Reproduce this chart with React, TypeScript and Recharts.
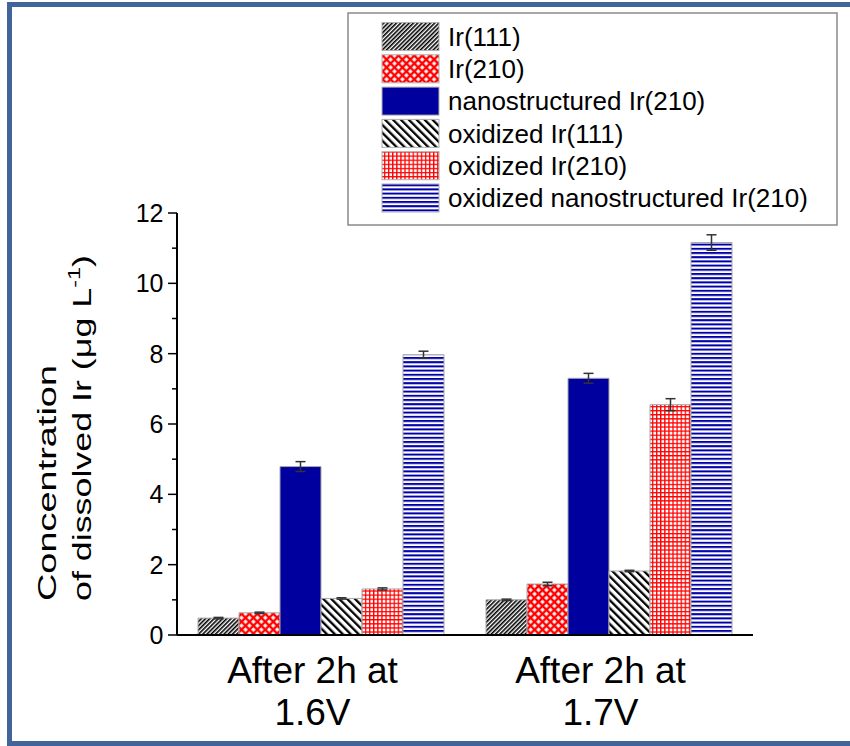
import React from 'react';
import { BarChart, Bar, XAxis, YAxis, ErrorBar, Legend, Label } from 'recharts';

// ---- data ----
const categories = ['After 2h at|1.6V', 'After 2h at|1.7V'];
const seriesNames = [
  'Ir(111)',
  'Ir(210)',
  'nanostructured Ir(210)',
  'oxidized Ir(111)',
  'oxidized Ir(210)',
  'oxidized nanostructured Ir(210)',
];
const ir111 = [0.48, 1.0];
const ir111Err = [0.02, 0.02];
const ir210 = [0.63, 1.45];
const ir210Err = [0.02, 0.05];
const nanoIr210 = [4.79, 7.3];
const nanoIr210Err = [0.14, 0.14];
const oxIr111 = [1.04, 1.82];
const oxIr111Err = [0.02, 0.02];
const oxIr210 = [1.31, 6.55];
const oxIr210Err = [0.03, 0.17];
const oxNanoIr210 = [7.97, 11.16];
const oxNanoIr210Err = [0.1, 0.22];
const yTicks = [0, 1, 2, 3, 4, 5, 6, 7, 8, 9, 10, 11, 12];
const yMajorLabels = ['0', '2', '4', '6', '8', '10', '12'];

const keys = ['ir111', 'ir210', 'nano', 'oxIr111', 'oxIr210', 'oxNano'];
const valueArrays = [ir111, ir210, nanoIr210, oxIr111, oxIr210, oxNanoIr210];
const errArrays = [ir111Err, ir210Err, nanoIr210Err, oxIr111Err, oxIr210Err, oxNanoIr210Err];
const fills = [
  'url(#p-ir111)',
  'url(#p-ir210)',
  '#00009E',
  'url(#p-oxir111)',
  'url(#p-oxir210)',
  'url(#p-oxnano)',
];

const data = categories.map((cat, i) => {
  const row: any = { cat };
  keys.forEach((k, j) => {
    row[k] = valueArrays[j][i];
    row[k + 'Err'] = errArrays[j][i];
  });
  return row;
});

const FONT = '"Liberation Sans", Arial, Helvetica, sans-serif';

const Patterns = () => (
  <defs>
    <pattern id="p-ir111" patternUnits="userSpaceOnUse" width="3" height="3" patternTransform="rotate(45)">
      <rect width="3" height="3" fill="#fff" />
      <rect width="1.6" height="3" fill="#000" />
    </pattern>
    <pattern id="p-oxir111" patternUnits="userSpaceOnUse" width="5.6" height="5.6" patternTransform="rotate(-45)">
      <rect width="5.6" height="5.6" fill="#fff" />
      <rect width="2.3" height="5.6" fill="#000" />
    </pattern>
    <pattern id="p-ir210" patternUnits="userSpaceOnUse" width="5.6" height="5.6" patternTransform="rotate(45)">
      <rect width="5.6" height="5.6" fill="#ff0000" />
      <rect x="1.2" y="1.2" width="3.2" height="3.2" fill="#fff" />
    </pattern>
    <pattern id="p-oxir210" patternUnits="userSpaceOnUse" width="4.1" height="4.1">
      <rect width="4.1" height="4.1" fill="#fff" />
      <rect width="4.1" height="1.3" fill="#ff0000" />
      <rect width="1.3" height="4.1" fill="#ff0000" />
    </pattern>
    <pattern id="p-oxnano" patternUnits="userSpaceOnUse" width="4.2" height="4.2">
      <rect width="4.2" height="4.2" fill="#fff" />
      <rect width="4.2" height="2" fill="#0000A8" />
    </pattern>
  </defs>
);

const YTick = (props: any) => {
  const { x, y, payload } = props;
  const v = payload.value;
  const major = v % 2 === 0;
  const label = major ? yMajorLabels[v / 2] : null;
  return (
    <g>
      <line x1={x - (major ? 9 : 5)} y1={y} x2={x} y2={y} stroke="#000" strokeWidth={1.5} />
      {label !== null && (
        <text x={x - 13.5} y={y} dy="0.36em" textAnchor="end" fontSize={25} fontFamily={FONT} fill="#000">
          {label}
        </text>
      )}
    </g>
  );
};

const XTick = (props: any) => {
  const { x, y, payload } = props;
  const lines = String(payload.value).split('|');
  return (
    <g>
      {lines.map((l, i) => (
        <text
          key={i}
          x={x - 8.5}
          y={y + 48 + i * 42}
          textAnchor="middle"
          fontSize={37}
          fontFamily={FONT}
          fill="#000"
        >
          {l}
        </text>
      ))}
    </g>
  );
};

const YLabel = () => (
  <g>
    <text
      transform="translate(56,601) rotate(-90)"
      textAnchor="start"
      fontSize={26}
      fontFamily={FONT}
      fill="#000"
      textLength={236}
      lengthAdjust="spacingAndGlyphs"
    >
      Concentration
    </text>
    <text
      transform="translate(91,601) rotate(-90)"
      textAnchor="start"
      fontSize={26}
      fontFamily={FONT}
      fill="#000"
      textLength={346}
      lengthAdjust="spacingAndGlyphs"
    >
      of dissolved Ir (μg L
      <tspan dy={-11} fontSize={17}>-1</tspan>
      <tspan dy={11}>)</tspan>
    </text>
  </g>
);

const LegendBox = () => (
  <svg width={492} height={215} style={{ display: 'block' }}>
    <rect x={1} y={1} width={489} height={212} fill="#fff" stroke="#8a8a8a" strokeWidth={1.5} />
    {seriesNames.map((name, i) => {
      const cy = 24.5 + i * 32.3;
      return (
        <g key={name}>
          <rect x={35} y={cy - 14} width={57} height={28} fill={fills[i]} stroke="#b0b0b0" strokeWidth={1} />
          <text x={101} y={cy} dy="0.36em" fontSize={26} fontFamily={FONT} fill="#000">
            {name}
          </text>
        </g>
      );
    })}
  </svg>
);

export default function App() {
  return (
    <div style={{ position: 'absolute', left: 0, top: 0, width: 850, height: 746, overflow: 'hidden', background: '#fff' }}>
      <BarChart
        width={850}
        height={746}
        data={data}
        margin={{ top: 213, right: 97, bottom: 0, left: 0 }}
        barCategoryGap={21}
        barGap={0}
      >
        <Patterns />
        <XAxis
          dataKey="cat"
          height={111}
          interval={0}
          tickLine={false}
          tickSize={0}
          tickMargin={0}
          axisLine={{ stroke: '#000', strokeWidth: 2 }}
          tick={<XTick />}
        />
        <YAxis
          width={177}
          domain={[0, 12]}
          ticks={yTicks}
          interval={0}
          tickLine={false}
          tickSize={0}
          tickMargin={0}
          axisLine={{ stroke: '#000', strokeWidth: 2 }}
          tick={<YTick />}
          allowDataOverflow
        >
          <Label content={<YLabel />} />
        </YAxis>
        <Legend
          layout="vertical"
          align="center"
          verticalAlign="middle"
          content={() => <LegendBox />}
          wrapperStyle={{ position: 'absolute', left: 347, top: 12, width: 492, height: 215, margin: 0 }}
        />
        {keys.map((k, i) => (
          <Bar
            key={k}
            dataKey={k}
            name={seriesNames[i]}
            fill={fills[i]}
            stroke="#a8a8a8"
            strokeWidth={1}
            isAnimationActive={false}
          >
            <ErrorBar dataKey={k + 'Err'} width={5} stroke="#333" strokeWidth={1.5} direction="y" />
          </Bar>
        ))}
      </BarChart>
      <div
        style={{
          position: 'absolute',
          left: 7,
          top: 2,
          width: 880,
          height: 744,
          boxSizing: 'border-box',
          border: '5px solid #41659A',
          pointerEvents: 'none',
        }}
      />
    </div>
  );
}
